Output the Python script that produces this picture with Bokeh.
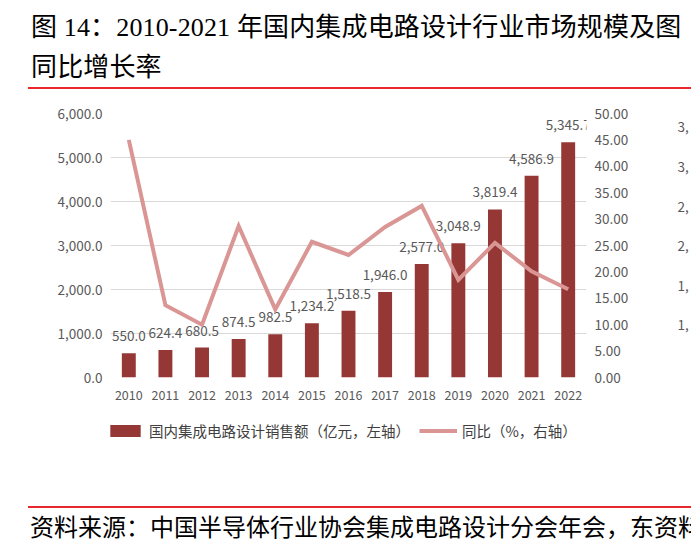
from bokeh.plotting import figure
from bokeh.models import (ColumnDataSource, Range1d, LinearAxis, FactorRange,
                          NumeralTickFormatter, FixedTicker, Legend, LegendItem, Div)
from bokeh.layouts import column
from bokeh.embed import file_html
from bokeh.resources import INLINE
from bokeh.core.properties import value

# ---------------- data ----------------
years = ["2010", "2011", "2012", "2013", "2014", "2015", "2016",
         "2017", "2018", "2019", "2020", "2021", "2022"]
sales = [550.0, 624.4, 680.5, 874.5, 982.5, 1234.2, 1518.5,
         1946.0, 2577.0, 3048.9, 3819.4, 4586.9, 5345.7]
growth = [45.0, 13.7, 10.0, 28.7, 12.9, 25.7, 23.2,
          28.5, 32.5, 18.5, 25.5, 20.1, 16.7]
left_ticks = [0, 1000, 2000, 3000, 4000, 5000, 6000]
right_ticks = [0, 5, 10, 15, 20, 25, 30, 35, 40, 45, 50]
# fragments of the neighbouring chart's axis, cut by the page edge
fragment_ticks = [3500, 3000, 2500, 2000, 1500, 1000]
fragment_labels = ["3,", "3,", "2,", "2,", "1,", "1,"]

title_line1 = "图 14：2010-2021 年国内集成电路设计行业市场规模及图"
title_line2 = "同比增长率"
source_text = "资料来源：中国半导体行业协会集成电路设计分会年会，东资料"
legend_bar = "国内集成电路设计销售额（亿元，左轴）"
legend_line = "同比（%，右轴）"

FONT = "Noto Sans CJK SC"
SERIF = "'Liberation Serif','Noto Sans CJK SC',serif"
BAR = "#953735"
LINE = "#d99694"
TXT = "#595959"
RED = "#e8282b"
W = 691

src = ColumnDataSource(dict(
    year=years, sales=sales, growth=growth,
    label=[f"{v:,.1f}" for v in sales],
))

# ---------------- main figure ----------------
p = figure(x_range=FactorRange(*years), y_range=Range1d(0, 6000),
           width=W, height=320, output_backend="svg", toolbar_location=None,
           min_border_left=110, min_border_right=102, min_border_top=24,
           min_border_bottom=32)
p.outline_line_color = None
p.extra_y_ranges = {"pct": Range1d(0, 50), "frag": Range1d(340, 3675)}

bars = p.vbar(x="year", top="sales", width=0.38, source=src,
              fill_color=BAR, line_color=None)
p.text(x="year", y="sales", text="label", source=src, text_align="center",
       text_baseline="middle", y_offset=-17, text_font=value(FONT),
       text_font_size="13.5px", text_color=TXT)
line = p.line(x="year", y="growth", source=src, y_range_name="pct",
              line_color=LINE, line_width=4, line_join="miter")

yl = p.yaxis[0]
yl.ticker = FixedTicker(ticks=left_ticks)
yl.formatter = NumeralTickFormatter(format="0,0.0")

yr = LinearAxis(y_range_name="pct", ticker=FixedTicker(ticks=right_ticks),
                formatter=NumeralTickFormatter(format="0.00"))
p.add_layout(yr, "right")

yf = LinearAxis(y_range_name="frag", ticker=FixedTicker(ticks=fragment_ticks),
                major_label_overrides={t: s for t, s in zip(fragment_ticks, fragment_labels)})
p.add_layout(yf, "right")

for ax in [yl, yr, yf, p.xaxis[0]]:
    ax.axis_line_color = None
    ax.major_tick_line_color = None
    ax.minor_tick_line_color = None
    ax.major_tick_out = 0
    ax.major_tick_in = 0
    ax.major_label_text_font = FONT
    ax.major_label_text_color = TXT
    ax.major_label_text_font_size = "13.5px"
    ax.major_label_standoff = 8
yf.major_label_standoff = 46
p.xaxis[0].major_label_text_font_size = "12.5px"
p.xaxis[0].major_label_standoff = 12

p.xgrid.grid_line_color = None
p.ygrid.ticker = FixedTicker(ticks=left_ticks)
p.ygrid.grid_line_color = "#d9d9d9"
p.ygrid.grid_line_width = 1

# ---------------- legend strip (same series, hidden; only the legend shows) ----------------
lf = figure(width=W, height=46, output_backend="svg", toolbar_location=None,
            x_range=p.x_range, y_range=Range1d(-2e6, -1e6),
            x_axis_type=None, y_axis_type=None, min_border=0)
lf.outline_line_color = None
lf.grid.grid_line_color = None
lbar = lf.vbar(x="year", top="sales", width=0.38, source=src,
               fill_color=BAR, line_color=None, visible=False)
lline = lf.line(x="year", y="growth", source=src, line_color=LINE,
                line_width=4, visible=False)
legend = Legend(items=[LegendItem(label=legend_bar, renderers=[lbar]),
                       LegendItem(label=legend_line, renderers=[lline])],
                location=(-4, 14), orientation="horizontal",
                padding=0, margin=0, spacing=9, label_standoff=5,
                glyph_width=38, glyph_height=15,
                border_line_color=None, background_fill_alpha=0,
                inactive_fill_alpha=0,
                label_text_font=FONT, label_text_font_size="14.5px",
                label_text_color="#404040")
lf.add_layout(legend)

# ---------------- title & source ----------------
title_div = Div(text=(
    f'<div style="margin:8px 0 0 28px;width:663px;'
    f'border-bottom:2px solid {RED};font-family:{SERIF};font-size:26px;'
    f'letter-spacing:0.15px;color:#000;">'
    f'<div style="height:40px;line-height:40px;white-space:nowrap;padding-left:3px;">{title_line1}</div>'
    f'<div style="height:39px;line-height:40px;white-space:nowrap;padding-left:3px;">{title_line2}</div>'
    f'</div>'), width=W, height=89, margin=(0, 0, 0, 0))

source_div = Div(text=(
    f'<div style="margin:51px 0 0 28px;width:663px;'
    f'border-top:2px solid {RED};font-family:{SERIF};font-size:24px;color:#000;">'
    f'<div style="height:40px;line-height:40px;white-space:nowrap;overflow:hidden;padding-left:2px;">'
    f'{source_text}</div></div>'), width=W, height=93, margin=(0, 0, 0, 0))

layout = column(title_div, p, lf, source_div, spacing=0)

open("out.html", "w").write(file_html(layout, INLINE))
